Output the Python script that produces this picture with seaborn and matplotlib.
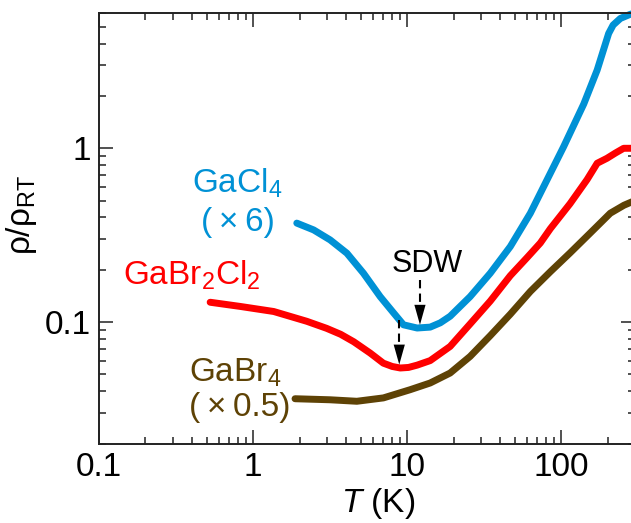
import numpy as np
import pandas as pd
import matplotlib
matplotlib.use("Agg")
import matplotlib.pyplot as plt
import matplotlib.ticker as mticker
import seaborn as sns

# Normalised resistivity rho/rho_RT versus temperature (K)
t_gacl4 = [1.92, 2.47, 3.16, 4.06, 5.20, 6.68, 8.15, 9.46, 11.6, 14.1, 16.4, 19.0,
           25.6, 34.6, 46.7, 63.0, 84.9, 103.5, 140, 171, 203, 217, 242, 280, 300]
rho_gacl4 = [0.371, 0.339, 0.297, 0.249, 0.191, 0.140, 0.113, 0.0964, 0.0924,
             0.0935, 0.099, 0.108, 0.140, 0.191, 0.272, 0.423, 0.718, 1.02, 1.8,
             2.82, 4.58, 5.12, 5.59, 5.9, 6.0]

t_gabr2cl2 = [0.526, 0.824, 1.36, 2.23, 3.0, 3.7, 4.5, 5.75, 7.0, 8.0, 9.02, 10.2,
              11.6, 14.1, 19.0, 25.6, 34.6, 46.7, 60, 73.1, 85, 114, 147, 171,
              198, 225, 254, 300]
rho_gabr2cl2 = [0.130, 0.123, 0.115, 0.101, 0.092, 0.085, 0.077, 0.0663, 0.058,
                0.0555, 0.0544, 0.0548, 0.0565, 0.0600, 0.0724, 0.0975, 0.132,
                0.185, 0.235, 0.285, 0.345, 0.48, 0.66, 0.82, 0.876, 0.94, 1.0, 1.0]

t_gabr4 = [1.87, 3.16, 4.71, 7.01, 10.45, 14.1, 19.0, 25.6, 34.6, 46.7, 63, 85,
           114, 154, 208, 255, 300]
rho_gabr4 = [0.0362, 0.0357, 0.035, 0.0366, 0.0408, 0.0446, 0.0509, 0.0634,
             0.0835, 0.111, 0.150, 0.195, 0.25, 0.325, 0.423, 0.47, 0.5]

samples = ["GaCl4", "GaBr2Cl2", "GaBr4"]
colors = {"GaCl4": "#0091d5", "GaBr2Cl2": "#ff0000", "GaBr4": "#5e4205"}

# SDW transition markers: temperature, top of dashed shaft, arrow tip
sdw_t = [12.1, 8.88]
sdw_top = [0.175, 0.103]
sdw_tip = [0.0964, 0.0569]

sns.set_theme(style="ticks")
plt.rcParams["font.family"] = ["Liberation Sans", "DejaVu Sans"]
plt.rcParams["mathtext.fontset"] = "custom"
plt.rcParams["mathtext.rm"] = "Liberation Sans"
plt.rcParams["mathtext.it"] = "Liberation Sans:italic"
plt.rcParams["mathtext.bf"] = "Liberation Sans:bold"

df = pd.concat([
    pd.DataFrame({"T": t_gacl4, "rho": rho_gacl4, "sample": "GaCl4"}),
    pd.DataFrame({"T": t_gabr2cl2, "rho": rho_gabr2cl2, "sample": "GaBr2Cl2"}),
    pd.DataFrame({"T": t_gabr4, "rho": rho_gabr4, "sample": "GaBr4"}),
], ignore_index=True)

fig = plt.figure(figsize=(6.31, 5.23), dpi=100)
ax = fig.add_axes([0.157, 0.152, 0.849, 0.823])

sns.lineplot(data=df, x="T", y="rho", hue="sample", hue_order=samples,
             palette=colors, lw=5, legend=False, estimator=None, ax=ax)
for ln in ax.lines:
    ln.set_solid_capstyle("round")
    ln.set_solid_joinstyle("round")
    ln.set_clip_on(False)

ax.set_xscale("log")
ax.set_yscale("log")
ax.set_xlim(0.1, 300)
ax.set_ylim(0.02, 6)

fmt = mticker.FuncFormatter(lambda v, p: f"{v:g}")
ax.xaxis.set_major_locator(mticker.LogLocator(base=10, numticks=10))
ax.xaxis.set_minor_locator(mticker.LogLocator(base=10, subs=np.arange(2, 10), numticks=20))
ax.yaxis.set_major_locator(mticker.LogLocator(base=10, numticks=10))
ax.yaxis.set_minor_locator(mticker.LogLocator(base=10, subs=np.arange(2, 10), numticks=20))
ax.xaxis.set_major_formatter(fmt)
ax.yaxis.set_major_formatter(fmt)
ax.xaxis.set_minor_formatter(mticker.NullFormatter())
ax.yaxis.set_minor_formatter(mticker.NullFormatter())

ax.tick_params(which="both", direction="in", top=True, right=True,
               color="#222222", width=1.1, labelsize=24, labelcolor="black")
ax.tick_params(which="major", length=10, pad=6)
ax.tick_params(which="minor", length=5)
for sp in ax.spines.values():
    sp.set_linewidth(1.4)
    sp.set_color("#222222")

ax.set_xlabel(r"$\mathit{T}$ (K)", fontsize=24, color="black")
ax.set_ylabel(r"$\mathrm{ρ/ρ_{RT}}$", fontsize=24, color="black")
ax.xaxis.set_label_coords(0.521, -0.098)
ax.yaxis.set_label_coords(-0.112, 0.531)

# sample labels
ax.text(0.787, 0.557, r"$\mathrm{GaCl_4}$", color=colors["GaCl4"], fontsize=24,
        ha="center", va="baseline")
ax.text(0.80, 0.332, "(\u2009×\u20096)", color=colors["GaCl4"], fontsize=24,
        ha="center", va="baseline")
ax.text(0.402, 0.164, r"$\mathrm{GaBr_2Cl_2}$", color=colors["GaBr2Cl2"], fontsize=24,
        ha="center", va="baseline")
ax.text(0.763, 0.0456, r"$\mathrm{GaBr_4}$", color=colors["GaBr4"], fontsize=24,
        ha="center", va="baseline")
ax.text(0.824, 0.0287, "(\u2009×\u20090.5)", color=colors["GaBr4"], fontsize=24,
        ha="center", va="baseline")

ax.text(13.4, 0.195, "SDW", color="black", fontsize=22, ha="center", va="baseline")

# dashed SDW arrows
for t, top, tip in zip(sdw_t, sdw_top, sdw_tip):
    base = tip * 10 ** (20 / 174)
    ax.plot([t, t], [top, base], color="black", lw=1.5, ls=(0, (4, 2.5)),
            solid_capstyle="butt", dash_capstyle="butt")
    ax.annotate("", xy=(t, tip), xytext=(t, base),
                arrowprops=dict(arrowstyle="-|>,head_length=1.0,head_width=0.28",
                                mutation_scale=14.4, lw=0, color="black",
                                shrinkA=0, shrinkB=0))

fig.savefig("out.png", dpi=100)
